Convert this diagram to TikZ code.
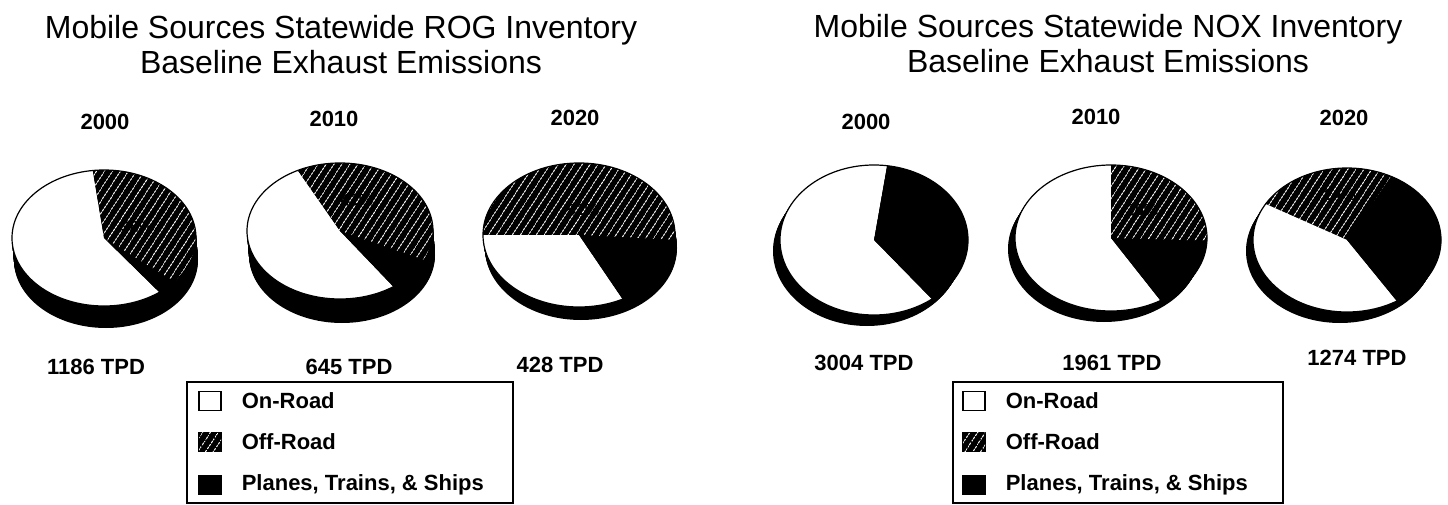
\documentclass[tikz,border=0pt]{standalone}
\usepackage{fontspec}
\setmainfont{Liberation Sans}
\usetikzlibrary{patterns.meta,positioning}

% one wedge of a pie face: centre x, centre y, x radius, y radius, from, to, style
\newcommand{\piewedge}[7]{%
  \path[#7] (#1,#2) -- plot[domain=#5:#6,samples=60] ({#1+#3*cos(\x)},{#2-#4*sin(\x)}) -- cycle;}
% dark rim under a pie face: centre x, centre y, x radius, y radius, depth, sideways shift
\newcommand{\pierim}[6]{%
  \foreach \k in {0,...,#5} \fill[black] ({#1+#6*\k/#5},{#2+\k}) ellipse [x radius=#3, y radius=#4];}

\tikzset{
  onroad/.style={fill=white},
  offroad/.style={fill=black, postaction={pattern={Lines[angle=57,distance=6.5pt,line width=0.8pt]}, pattern color=white}},
  pts/.style={fill=black},
  ttl/.style={font=\fontsize{32}{35}\selectfont, align=center},
  yr/.style={font=\bfseries\fontsize{22}{24}\selectfont},
  tpd/.style={font=\bfseries\fontsize{22}{24}\selectfont},
  pct/.style={font=\bfseries\fontsize{16}{18}\selectfont},
  leg/.style={font=\bfseries\fontsize{22}{24}\selectfont, inner sep=0pt},
  swatch/.style={draw=black, line width=1.2pt, minimum width=22pt, minimum height=19pt, inner sep=0pt},
  legbox/.style={draw=black, line width=1.5pt},
}

\begin{document}
\begin{tikzpicture}[x=1pt,y=-1pt]
\useasboundingbox (0,0) rectangle (1448,505);

% ROG side
\node[ttl] (rogTitle) at (341,45) {Mobile Sources Statewide ROG Inventory\\Baseline Exhaust Emissions};
\node[yr] (rogY0) at (105,122) {2000};
\node[yr] (rogY1) at (334,119) {2010};
\node[yr] (rogY2) at (575,118) {2020};

% 2000
\pierim{104}{238}{92}{68}{22}{2}
\piewedge{104}{238}{92}{68}{97}{307}{onroad}
\piewedge{104}{238}{92}{68}{307}{320}{pts}
\piewedge{104}{238}{92}{68}{320}{457}{offroad}
\draw[line width=1.2pt] (104,238) ellipse [x radius=92, y radius=68];
\node[pct] (rogP0) at (137,227) {38\%};

% 2010
\pierim{340}{231}{93}{68}{24}{2}
\piewedge{340}{231}{93}{68}{117}{305}{onroad}
\piewedge{340}{231}{93}{68}{305}{335}{pts}
\piewedge{340}{231}{93}{68}{335}{477}{offroad}
\draw[line width=1.2pt] (340,231) ellipse [x radius=93, y radius=68];
\node[pct] (rogP1) at (357,200) {42\%};

% 2020
\pierim{579}{235}{96}{72}{13}{2}
\piewedge{579}{235}{96}{72}{-4}{180}{offroad}
\piewedge{579}{235}{96}{72}{180}{297}{onroad}
\piewedge{579}{235}{96}{72}{297}{356}{pts}
\draw[line width=1.2pt] (579,235) ellipse [x radius=96, y radius=72];
\node[pct] (rogP2) at (583,210) {52\%};

\node[tpd] (rogT0) at (96,367) {1186 TPD};
\node[tpd] (rogT1) at (349,367) {645 TPD};
\node[tpd] (rogT2) at (560,365) {428 TPD};

% ROG legend
\draw[legbox] (187,382) rectangle (513,503);
\node[swatch, onroad] (rogL0) at (210,401) {};
\node[swatch, offroad] (rogL1) at (210,442) {};
\node[swatch, pts] (rogL2) at (210,485) {};
\node[leg, right=20pt of rogL0] (rogLt0) {On-Road};
\node[leg, right=20pt of rogL1] (rogLt1) {Off-Road};
\node[leg, right=20pt of rogL2] (rogLt2) {Planes, Trains, \& Ships};

% NOX side
\node[ttl] (noxTitle) at (1108,44) {Mobile Sources Statewide NOX Inventory\\Baseline Exhaust Emissions};
\node[yr] (noxY0) at (866,122) {2000};
\node[yr] (noxY1) at (1096,117) {2010};
\node[yr] (noxY2) at (1344,118) {2020};

% 2000
\pierim{874}{240}{94}{75}{11}{-7}
\piewedge{874}{240}{94}{75}{82}{308}{onroad}
\piewedge{874}{240}{94}{75}{308}{442}{pts}
\draw[line width=1.2pt] (874,240) ellipse [x radius=94, y radius=75];

% 2010
\pierim{1111}{238}{96}{73}{11}{-7}
\piewedge{1111}{238}{96}{73}{90}{301}{onroad}
\piewedge{1111}{238}{96}{73}{301}{358}{pts}
\piewedge{1111}{238}{96}{73}{358}{450}{offroad}
\draw[line width=1.2pt] (1111,238) ellipse [x radius=96, y radius=73];
\node[pct] (noxP1) at (1142,210) {25\%};

% 2020
\pierim{1347}{240}{94}{72}{11}{-7}
\piewedge{1347}{240}{94}{72}{62}{150}{offroad}
\piewedge{1347}{240}{94}{72}{150}{302}{onroad}
\piewedge{1347}{240}{94}{72}{302}{422}{pts}
\draw[line width=1.2pt] (1347,240) ellipse [x radius=94, y radius=72];
\node[pct] (noxP2) at (1340,195) {24\%};

\node[tpd] (noxT0) at (864,363) {3004 TPD};
\node[tpd] (noxT1) at (1112,363) {1961 TPD};
\node[tpd] (noxT2) at (1357,358) {1274 TPD};

% NOX legend
\draw[legbox] (953,382) rectangle (1283,503);
\node[swatch, onroad] (noxL0) at (974,401) {};
\node[swatch, offroad] (noxL1) at (974,442) {};
\node[swatch, pts] (noxL2) at (974,485) {};
\node[leg, right=20pt of noxL0] (noxLt0) {On-Road};
\node[leg, right=20pt of noxL1] (noxLt1) {Off-Road};
\node[leg, right=20pt of noxL2] (noxLt2) {Planes, Trains, \& Ships};
\end{tikzpicture}
\end{document}
